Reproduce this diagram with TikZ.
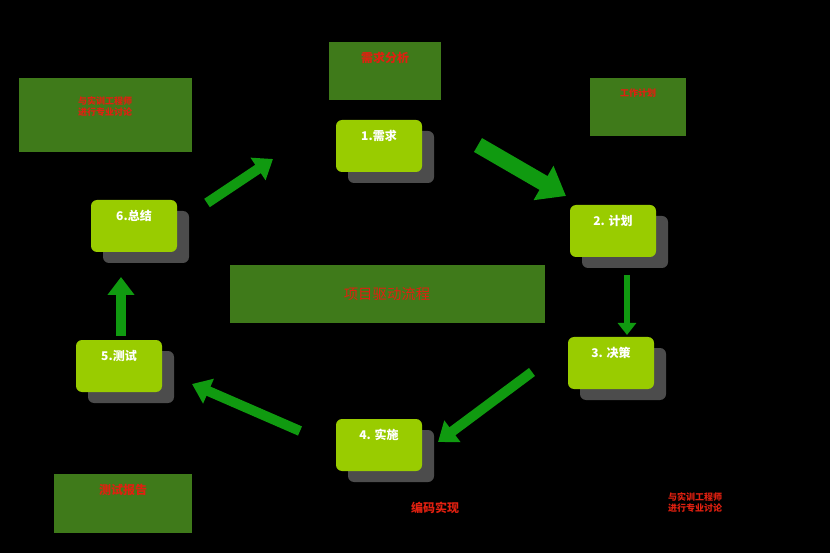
\documentclass[tikz,border=0pt]{standalone}
\usepackage{fontspec}
\setmainfont{Noto Sans CJK SC}
\usetikzlibrary{arrows.meta,shadows}
\definecolor{stepgreen}{HTML}{99CC00}
\definecolor{boxgreen}{HTML}{3F7A1A}
\definecolor{arrowgreen}{HTML}{109A10}
\definecolor{labelred}{HTML}{E02010}
\begin{document}
\begin{tikzpicture}[
		x=1pt, y=-1pt,
		font=\bfseries
	]
	\tikzset{
		stepnode/.style = {rounded corners=6pt, fill=stepgreen, minimum width=86pt, minimum height=52pt,
			text=white, font=\bfseries\large, text depth=22pt,
			drop shadow={shadow xshift=12pt, shadow yshift=-11pt, fill=gray!60!black, opacity=1}},
		notebox/.style = {fill=boxgreen, text=labelred, align=center, font=\small\bfseries},
		flow/.style = {-{Triangle[length=18pt, width=26pt]}, line width=10pt, arrowgreen},
	}
	\fill[black] (0,0) rectangle (830,553);
	%
	\node[stepnode] at (379,146) (s1) {1.需求};
	\node[stepnode] at (613,231) (s2) {2. 计划};
	\node[stepnode] at (611,363) (s3) {3. 决策};
	\node[stepnode] at (379,445) (s4) {4. 实施};
	\node[stepnode] at (119,366) (s5) {5.测试};
	\node[stepnode] at (134,226) (s6) {6.总结};
	%
	\node[fill=boxgreen, text=labelred, minimum width=315pt, minimum height=58pt, font=\Large] at (387,294) (core) {项目驱动流程};
	\node[notebox, minimum width=112pt, minimum height=58pt, text depth=28pt, font=\large\bfseries] at (385,71) (n1) {需求分析};
	\node[notebox, minimum width=173pt, minimum height=74pt, text depth=18pt] at (105,115) (n6) {与实训工程师\\进行专业讨论};
	\node[notebox, minimum width=96pt, minimum height=58pt, text depth=28pt] at (638,107) (n2) {工作计划};
	\node[notebox, minimum width=138pt, minimum height=59pt, text depth=28pt, font=\large\bfseries] at (123,503) (n5) {测试报告};
	\node[text=labelred, font=\large\bfseries] at (435,508) (n4) {编码实现};
	\node[text=labelred, align=center, font=\small\bfseries] at (695,503) (n3) {与实训工程师\\进行专业讨论};
	%
	\coordinate (a1) at (478,145); \coordinate (b1) at (566,196);
	\coordinate (a2) at (627,275); \coordinate (b2) at (627,335);
	\coordinate (a3) at (532,372); \coordinate (b3) at (438,442);
	\coordinate (a4) at (300,431); \coordinate (b4) at (192,384);
	\coordinate (a5) at (121,336); \coordinate (b5) at (121,277);
	\coordinate (a6) at (207,203); \coordinate (b6) at (273,159);
	%
	\draw[flow, line width=16pt, -{Triangle[length=26pt, width=38pt]}] (a1) -- (b1);
	\draw[flow, line width=6pt, -{Triangle[length=12pt, width=18pt]}] (a2) -- (b2);
	\draw[flow] (a3) -- (b3);
	\draw[flow] (a4) -- (b4);
	\draw[flow] (a5) -- (b5);
	\draw[flow] (a6) -- (b6);
\end{tikzpicture}
\end{document}
